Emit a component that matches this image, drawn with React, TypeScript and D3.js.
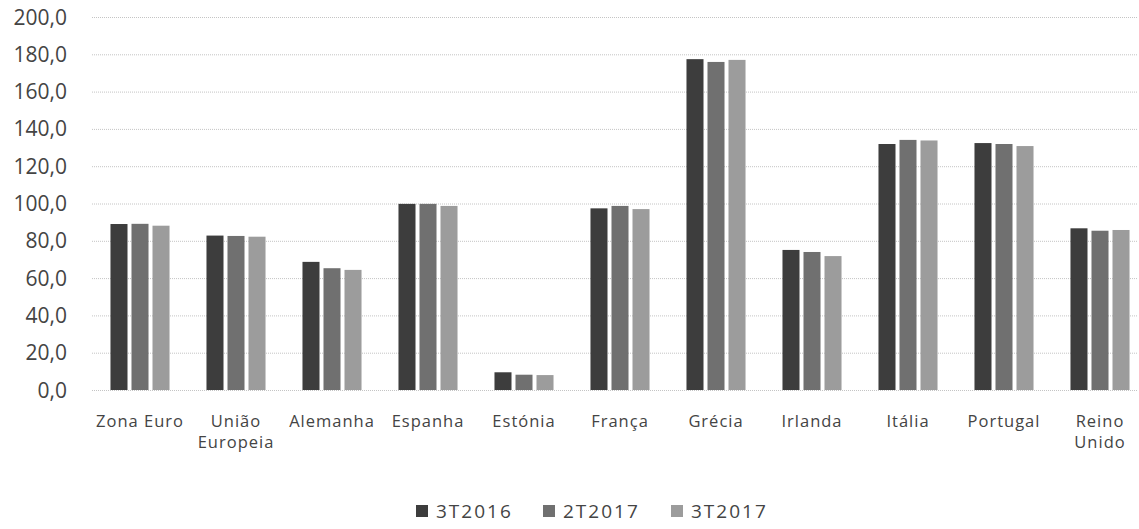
import { useEffect, useRef } from "react";
import * as d3 from "d3";

const categories = [
  "Zona Euro",
  "União Europeia",
  "Alemanha",
  "Espanha",
  "Estónia",
  "França",
  "Grécia",
  "Irlanda",
  "Itália",
  "Portugal",
  "Reino Unido",
];
// label lines as shown under the axis
const categoryLines = [
  ["Zona Euro"],
  ["União", "Europeia"],
  ["Alemanha"],
  ["Espanha"],
  ["Estónia"],
  ["França"],
  ["Grécia"],
  ["Irlanda"],
  ["Itália"],
  ["Portugal"],
  ["Reino", "Unido"],
];
const seriesNames = ["3T2016", "2T2017", "3T2017"];
const s3T2016 = [89.0, 82.8, 68.7, 99.8, 9.5, 97.4, 177.4, 75.1, 131.9, 132.4, 86.7];
const s2T2017 = [89.1, 82.6, 65.3, 99.8, 8.2, 98.7, 175.9, 74.0, 134.1, 131.9, 85.4];
const s3T2017 = [88.1, 82.2, 64.4, 98.7, 8.0, 97.0, 177.0, 71.8, 133.8, 130.8, 85.8];
const yTicks = [0, 20, 40, 60, 80, 100, 120, 140, 160, 180, 200];

const colors = ["#3d3d3d", "#707070", "#9c9c9c"];

export default function App() {
  const ref = useRef<SVGSVGElement | null>(null);

  useEffect(() => {
    const svg = d3.select(ref.current);
    svg.selectAll("*").remove();

    const width = 1139;
    const height = 529;
    const font = "'Open Sans', 'Noto Sans', sans-serif";
    const series = [s3T2016, s2T2017, s3T2017];

    const x = d3
      .scaleBand<string>()
      .domain(categories)
      .range([92, 1148])
      .paddingInner(0.385)
      .paddingOuter(0.1925);
    const xs = d3
      .scaleBand<string>()
      .domain(seriesNames)
      .range([0, x.bandwidth()])
      .paddingInner(0.19);
    const y = d3.scaleLinear().domain([0, 200]).range([390, 17]);

    svg.attr("width", width).attr("height", height);

    // gridlines
    svg
      .append("g")
      .selectAll("line")
      .data(yTicks)
      .enter()
      .append("line")
      .attr("x1", 92)
      .attr("x2", 1137)
      .attr("y1", (d) => y(d) + 0.5)
      .attr("y2", (d) => y(d) + 0.5)
      .attr("stroke", "#c4c4c4")
      .attr("stroke-width", 1)
      .attr("stroke-dasharray", "1,1");

    // y labels
    svg
      .append("g")
      .selectAll("text")
      .data(yTicks)
      .enter()
      .append("text")
      .attr("x", 67)
      .attr("y", (d) => y(d))
      .attr("dy", "0.36em")
      .attr("text-anchor", "end")
      .attr("font-family", font)
      .attr("font-size", 21)
      .attr("fill", "#444")
      .text((d) => d.toFixed(1).replace(".", ","));

    // bars
    const groups = svg
      .append("g")
      .selectAll("g")
      .data(categories)
      .enter()
      .append("g")
      .attr("transform", (d) => `translate(${x(d)},0)`);

    groups
      .selectAll("rect")
      .data((_, i) => series.map((s, k) => ({ name: seriesNames[k], value: s[i], k })))
      .enter()
      .append("rect")
      .attr("x", (d) => xs(d.name)!)
      .attr("width", xs.bandwidth())
      .attr("y", (d) => y(d.value))
      .attr("height", (d) => y(0) - y(d.value))
      .attr("fill", (d) => colors[d.k]);

    // category labels, one text per line
    const labelData = categoryLines.flatMap((lines, i) =>
      lines.map((t, j) => ({ t, j, cat: categories[i] }))
    );
    svg
      .append("g")
      .selectAll("text")
      .data(labelData)
      .enter()
      .append("text")
      .attr("x", (d) => x(d.cat)! + x.bandwidth() / 2)
      .attr("y", (d) => 427 + d.j * 21)
      .attr("text-anchor", "middle")
      .attr("font-family", font)
      .attr("font-size", 16.5)
      .attr("letter-spacing", 1)
      .attr("fill", "#444")
      .text((d) => d.t);

    // legend
    const legendX = [416, 543, 671];
    const legend = svg
      .append("g")
      .selectAll("g")
      .data(seriesNames)
      .enter()
      .append("g")
      .attr("transform", (_, i) => `translate(${legendX[i]},505)`);
    legend
      .append("rect")
      .attr("width", 12)
      .attr("height", 12)
      .attr("fill", (_, i) => colors[i]);
    legend
      .append("text")
      .attr("x", 20)
      .attr("y", 12.5)
      .attr("font-family", font)
      .attr("font-size", 19)
      .attr("letter-spacing", 2)
      .attr("fill", "#444")
      .text((d) => d);
  }, []);

  return (
    <div>
      <style>{"body{margin:0}"}</style>
      <svg ref={ref} style={{ display: "block" }} />
    </div>
  );
}
